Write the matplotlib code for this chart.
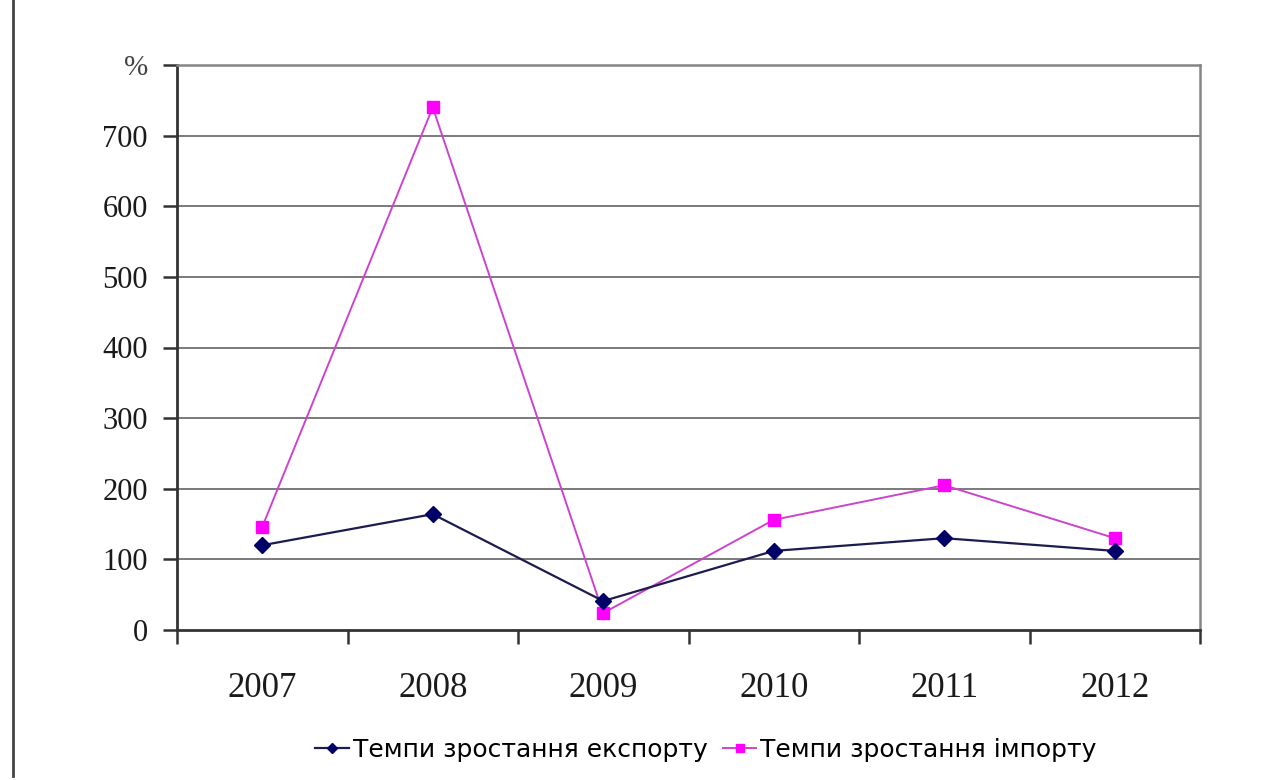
import numpy as np
import matplotlib.pyplot as plt
from matplotlib.lines import Line2D

years = ['2007', '2008', '2009', '2010', '2011', '2012']
export_growth = [120, 164, 41, 112, 130, 112]
import_growth = [146, 740, 24, 156, 205, 130]
y_ticks = [0, 100, 200, 300, 400, 500, 600, 700, 800]
y_tick_labels = ['0', '100', '200', '300', '400', '500', '600', '700', '%']

fig = plt.figure(figsize=(12.66, 7.8), dpi=100)
ax = fig.add_axes((177 / 1266, 1 - 630 / 780, 1023 / 1266, 565 / 780))

x = np.arange(len(years))
ax.plot(x, export_growth, color='#1c1c50', lw=1.6, marker='D', ms=8,
        mfc='#000066', mec='#000066', label='Темпи зростання експорту', zorder=4)
ax.plot(x, import_growth, color='#cc44cc', lw=1.4, marker='s', ms=9,
        mfc='#ff00ff', mec='#ff00ff', label='Темпи зростання імпорту', zorder=3)

ax.set_xlim(-0.5, len(years) - 0.5)
ax.set_ylim(0, 800)

# gridlines at the hundreds, top edge is the frame
for v in y_ticks[1:-1]:
    ax.axhline(v, color='#7a7a7a', lw=1.4, zorder=1)

ax.set_yticks(y_ticks)
ax.set_yticklabels(y_tick_labels, family='Liberation Serif', fontsize=22, color='#1a1a1a')
pct = ax.get_yticklabels()[-1]
pct.set_fontsize(21)
pct.set_color('#444444')

ax.set_xticks(x)
ax.set_xticklabels(years, family='Liberation Serif', fontsize=25, color='#1a1a1a')
ax.set_xticks(np.arange(-0.5, len(years)), minor=True)
ax.tick_params(axis='x', which='major', length=0, pad=30)
ax.tick_params(axis='x', which='minor', length=10, width=1.8, color='#333333', direction='out')
ax.tick_params(axis='y', length=10, width=1.8, color='#333333', direction='out', pad=11)

for side in ('left', 'bottom'):
    ax.spines[side].set_color('#333333')
    ax.spines[side].set_linewidth(2)
for side in ('top', 'right'):
    ax.spines[side].set_color('#858585')
    ax.spines[side].set_linewidth(1.8)

fig.legend(loc='center', bbox_to_anchor=(706 / 1266, 1 - 750 / 780), ncol=2, frameon=False,
           prop={'family': 'DejaVu Sans', 'size': 18}, handlelength=1.35,
           columnspacing=0.6, handletextpad=0.15, markerscale=0.7)

# page border at the left edge
fig.add_artist(Line2D([13 / 1266, 13 / 1266], [0.005, 1.0], color='#444444', lw=2))

fig.savefig('out.png', dpi=100, facecolor='white')
